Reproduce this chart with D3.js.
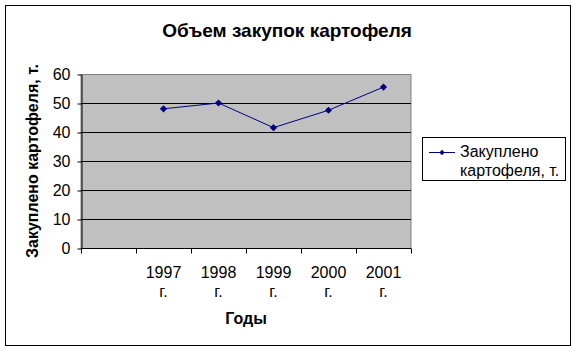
<!DOCTYPE html>
<html>
<head>
<meta charset="utf-8">
<script src="https://cdn.jsdelivr.net/npm/d3@7"></script>
<style>
  body { margin: 0; background: #fff; }
  text { font-family: Arial, "Liberation Sans", sans-serif; }
</style>
</head>
<body>
<svg width="575" height="351"></svg>
<script>
const categories = ["", "1997 г.", "1998 г.", "1999 г.", "2000 г.", "2001 г."];
const values = [null, 48, 50, 41.5, 47.5, 55.5];
const yTicks = [0, 10, 20, 30, 40, 50, 60];
const seriesName = ["Закуплено", "картофеля, т."];

const svg = d3.select("svg");
const plot = { left: 81, right: 411, top: 74, bottom: 248 };

// chart border
svg.append("rect")
    .attr("x", 5.5).attr("y", 5.5)
    .attr("width", 565).attr("height", 340)
    .attr("fill", "#fff").attr("stroke", "#000").attr("stroke-width", 1);

svg.append("text")
    .attr("x", 287).attr("y", 37)
    .attr("text-anchor", "middle")
    .attr("font-size", 19).attr("font-weight", "bold")
    .text("Объем закупок картофеля");

const x = d3.scaleBand().domain(categories).range([plot.left, plot.right]);
const y = d3.scaleLinear().domain([0, 60]).range([plot.bottom, plot.top]);

// plot area
svg.append("rect")
    .attr("x", plot.left).attr("y", plot.top + 0.5)
    .attr("width", plot.right - plot.left).attr("height", plot.bottom - plot.top)
    .attr("fill", "#c0c0c0").attr("stroke", "#808080");

// gridlines
svg.append("g").selectAll("line")
    .data(yTicks.filter(d => d > 0 && d < 60))
    .join("line")
    .attr("x1", plot.left).attr("x2", plot.right)
    .attr("y1", d => Math.round(y(d)) + 0.5).attr("y2", d => Math.round(y(d)) + 0.5)
    .attr("stroke", "#000");

// y axis
const yAxis = svg.append("g")
    .attr("transform", `translate(${plot.left + 0.5},0.5)`)
    .call(d3.axisLeft(y).tickValues(yTicks).tickSize(4).tickSizeOuter(0).tickPadding(7));
yAxis.select(".domain").attr("stroke", "#000");
yAxis.selectAll("text").attr("font-size", 16).attr("fill", "#000")
    .style("font-family", "Arial, 'Liberation Sans', sans-serif");

// x axis
const xg = svg.append("g").attr("transform", `translate(0,${plot.bottom + 0.5})`);
xg.append("line").attr("x1", plot.left).attr("x2", plot.right).attr("stroke", "#000");
xg.selectAll("line.tick")
    .data(categories.map(c => x(c)).concat([plot.right]))
    .join("line").attr("class", "tick")
    .attr("x1", d => Math.round(d) + 0.5).attr("x2", d => Math.round(d) + 0.5)
    .attr("y1", 0).attr("y2", 5)
    .attr("stroke", "#000");
const labels = xg.selectAll("text")
    .data(categories)
    .join("text")
    .attr("text-anchor", "middle")
    .attr("font-size", 16);
labels.selectAll("tspan")
    .data(c => c.split(" ").filter(s => s).map(s => ({ s, c })))
    .join("tspan")
    .attr("x", d => x(d.c) + x.bandwidth() / 2)
    .attr("y", (d, i) => 29 + i * 19)
    .text(d => d.s);

svg.append("text")
    .attr("x", (plot.left + plot.right) / 2).attr("y", 324)
    .attr("text-anchor", "middle")
    .attr("font-size", 16).attr("font-weight", "bold")
    .text("Годы");

svg.append("text")
    .attr("transform", `translate(38,${(plot.top + plot.bottom) / 2}) rotate(-90)`)
    .attr("text-anchor", "middle")
    .attr("font-size", 16).attr("font-weight", "bold")
    .text("Закуплено картофеля, т.");

// series
const pts = categories.map((c, i) => ({ c, v: values[i] })).filter(d => d.v != null);
const line = d3.line().x(d => x(d.c) + x.bandwidth() / 2).y(d => y(d.v));
svg.append("path")
    .datum(pts)
    .attr("d", line)
    .attr("fill", "none").attr("stroke", "#000080").attr("stroke-width", 1);
const diamond = d3.symbol().type(d3.symbolSquare).size(26);
svg.append("g").selectAll("path")
    .data(pts)
    .join("path")
    .attr("transform", d => `translate(${x(d.c) + x.bandwidth() / 2},${y(d.v)}) rotate(45)`)
    .attr("d", diamond)
    .attr("fill", "#000080");

// legend
const lg = svg.append("g");
lg.append("rect")
    .attr("x", 422.5).attr("y", 137.5)
    .attr("width", 143).attr("height", 43)
    .attr("fill", "#fff").attr("stroke", "#000");
lg.append("line")
    .attr("x1", 429).attr("x2", 455).attr("y1", 152.5).attr("y2", 152.5)
    .attr("stroke", "#000080");
lg.append("path")
    .attr("transform", "translate(442,152.5) rotate(45)")
    .attr("d", d3.symbol().type(d3.symbolSquare).size(14))
    .attr("fill", "#000080");
lg.selectAll("text")
    .data(seriesName)
    .join("text")
    .attr("x", 460).attr("y", (d, i) => 157 + i * 19)
    .attr("font-size", 16)
    .text(d => d);
</script>
</body>
</html>
